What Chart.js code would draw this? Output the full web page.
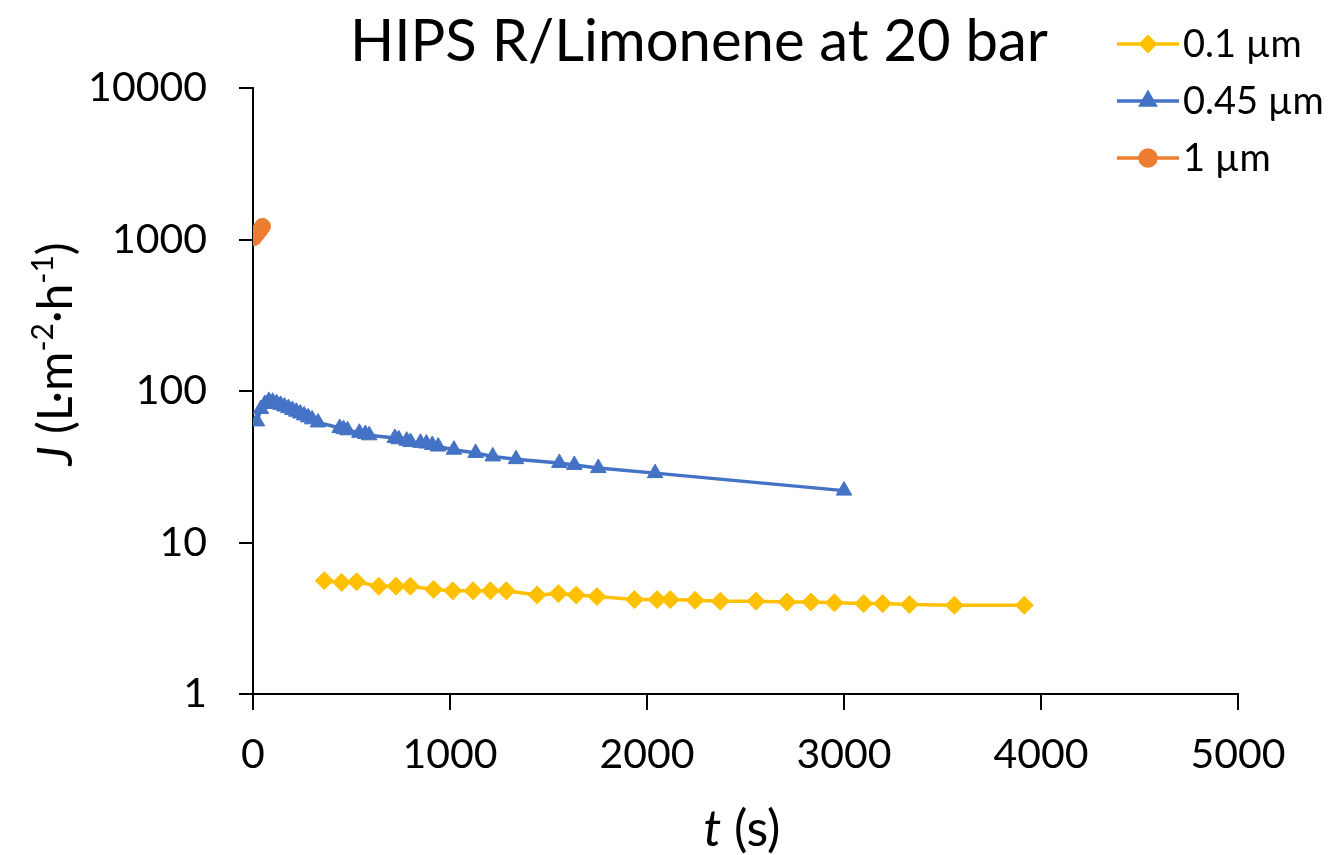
<!DOCTYPE html>
<html>
<head>
<meta charset="utf-8">
<title>HIPS R/Limonene at 20 bar</title>
<script src="https://cdn.jsdelivr.net/npm/chart.js@4.4.1/dist/chart.umd.min.js"></script>
<style>
  html, body { margin: 0; padding: 0; background: #fff; }
  canvas { display: block; }
</style>
</head>
<body>
<canvas id="chart" width="1334" height="855"></canvas>
<script>
// Permeate flux J (L·m-2·h-1) versus filtration time t (s) for three pore sizes
const chartTitle = 'HIPS R/Limonene at 20 bar';
const seriesLabels = ['0.1 µm', '0.45 µm', '1 µm'];

const time01 = [362, 450, 526, 638, 726, 799, 917, 1014, 1117, 1205, 1286, 1442, 1550, 1641, 1746,
                1936, 2051, 2118, 2244, 2372, 2553, 2711, 2832, 2951, 3100, 3196, 3332, 3560, 3915];
const flux01 = [5.6, 5.45, 5.5, 5.15, 5.15, 5.15, 4.9, 4.8, 4.8, 4.8, 4.8, 4.5, 4.6, 4.5, 4.4,
                4.2, 4.2, 4.2, 4.15, 4.1, 4.1, 4.05, 4.05, 4.0, 3.95, 3.95, 3.9, 3.85, 3.85];

const time045 = [20, 40, 60, 80, 100, 120, 140, 160, 180, 200, 220, 240, 260, 280, 300, 330,
                 440, 460, 480, 540, 570, 590, 720, 740, 780, 800, 850, 880, 910, 940,
                 1020, 1130, 1217, 1335, 1555, 1631, 1753, 2041, 3000];
const flux045 = [63, 76, 82, 86, 85, 83, 81, 79, 77, 75, 73, 71, 69, 67, 65, 62,
                 57, 56, 55, 53, 52, 51, 49, 48, 47, 46, 45.5, 45, 44, 43,
                 41, 39, 37, 35.5, 33.5, 32.5, 31, 28.7, 22];

const time1 = [5, 20, 35, 48];
const flux1 = [1030, 1090, 1150, 1220];

const xTickValues = [0, 1000, 2000, 3000, 4000, 5000];
const yTickValues = [1, 10, 100, 1000, 10000];

const colors = ['#FFC000', '#4472C4', '#ED7D31'];
const markers = ['rectRot', 'triangle', 'circle'];
const markerSizes = [9, 9, 8];

const FONT = 'Lato, "Open Sans", sans-serif';

function toPoints(xs, ys) {
  return xs.map((x, i) => ({ x: x, y: ys[i] }));
}

const datasets = [
  { data: toPoints(time01, flux01) },
  { data: toPoints(time045, flux045) },
  { data: toPoints(time1, flux1) }
].map((d, i) => Object.assign(d, {
  label: seriesLabels[i],
  borderColor: colors[i],
  backgroundColor: colors[i],
  borderWidth: 3.5,
  pointStyle: markers[i],
  pointRadius: markerSizes[i],
  pointHoverRadius: markerSizes[i],
  pointBorderWidth: 1,
  pointBorderColor: colors[i],
  showLine: true,
  tension: 0
}));

// Title, axis titles (italic symbols, superscripts) and legend
const decorations = {
  id: 'decorations',
  afterDraw(chart) {
    const ctx = chart.ctx;
    ctx.save();
    ctx.fillStyle = '#000';

    // chart title
    ctx.font = '58px ' + FONT;
    ctx.textAlign = 'center';
    ctx.textBaseline = 'middle';
    ctx.fillText(chartTitle, 699, 42);

    // x axis title: italic t followed by unit
    const xParts = [
      { t: 't', f: 'italic 50px ' + FONT },
      { t: ' (s)', f: '50px ' + FONT }
    ];
    drawRun(ctx, xParts, 742, 830, 'middle');

    // y axis title, rotated
    ctx.save();
    ctx.translate(72, 354);
    ctx.rotate(-Math.PI / 2);
    const yParts = [
      { t: 'J', f: 'italic 48px ' + FONT },
      { t: ' (L·m', f: '48px ' + FONT },
      { t: '-2', f: '30px ' + FONT, dy: -19 },
      { t: '·h', f: '48px ' + FONT },
      { t: '-1', f: '30px ' + FONT, dy: -19 },
      { t: ')', f: '48px ' + FONT }
    ];
    drawRun(ctx, yParts, 0, 0, 'alphabetic');
    ctx.restore();

    // legend: line sample with marker, then label
    const rows = [44, 101, 158];
    chart.data.datasets.forEach((ds, i) => {
      const y = rows[i];
      ctx.strokeStyle = ds.borderColor;
      ctx.lineWidth = 3.5;
      ctx.beginPath();
      ctx.moveTo(1117, y);
      ctx.lineTo(1179, y);
      ctx.stroke();
      ctx.fillStyle = ds.borderColor;
      Chart.helpers.drawPoint(ctx, {
        pointStyle: ds.pointStyle,
        radius: i === 0 ? 7 : 8,
        rotation: 0,
        borderWidth: 1
      }, 1148, y);
      ctx.fillStyle = '#000';
      ctx.font = '38px ' + FONT;
      ctx.textAlign = 'left';
      ctx.textBaseline = 'middle';
      ctx.fillText(ds.label, 1183, y + 1);
    });
    ctx.restore();
  }
};

function drawRun(ctx, parts, cx, cy, baseline) {
  let total = 0;
  parts.forEach(p => { ctx.font = p.f; p.w = ctx.measureText(p.t).width; total += p.w; });
  let x = cx - total / 2;
  ctx.textAlign = 'left';
  ctx.textBaseline = baseline;
  parts.forEach(p => {
    ctx.font = p.f;
    ctx.fillText(p.t, x, cy + (p.dy || 0));
    x += p.w;
  });
}

new Chart(document.getElementById('chart'), {
  type: 'scatter',
  data: { datasets: datasets },
  plugins: [decorations],
  options: {
    responsive: false,
    animation: false,
    devicePixelRatio: 1,
    layout: { padding: { top: 88, right: 96, bottom: 0, left: 0 } },
    plugins: {
      legend: { display: false },
      title: { display: false },
      tooltip: { enabled: false }
    },
    scales: {
      x: {
        type: 'linear',
        min: 0,
        max: 5000,
        afterBuildTicks: axis => { axis.ticks = xTickValues.map(v => ({ value: v })); },
        afterFit: axis => { axis.height = 161; },
        grid: { drawOnChartArea: false, drawTicks: true, tickLength: 16, color: '#000', lineWidth: 2 },
        border: { display: true, color: '#000', width: 2 },
        ticks: {
          color: '#000',
          font: { family: FONT, size: 41 },
          padding: 20,
          maxRotation: 0,
          callback: v => String(v)
        }
      },
      y: {
        type: 'logarithmic',
        min: 1,
        max: 10000,
        afterBuildTicks: axis => { axis.ticks = yTickValues.map(v => ({ value: v })); },
        afterFit: axis => { axis.width = 253; },
        grid: { drawOnChartArea: false, drawTicks: true, tickLength: 14, color: '#000', lineWidth: 2 },
        border: { display: true, color: '#000', width: 2 },
        ticks: {
          color: '#000',
          font: { family: FONT, size: 41 },
          padding: 32,
          callback: v => String(v)
        }
      }
    }
  }
});
</script>
</body>
</html>
